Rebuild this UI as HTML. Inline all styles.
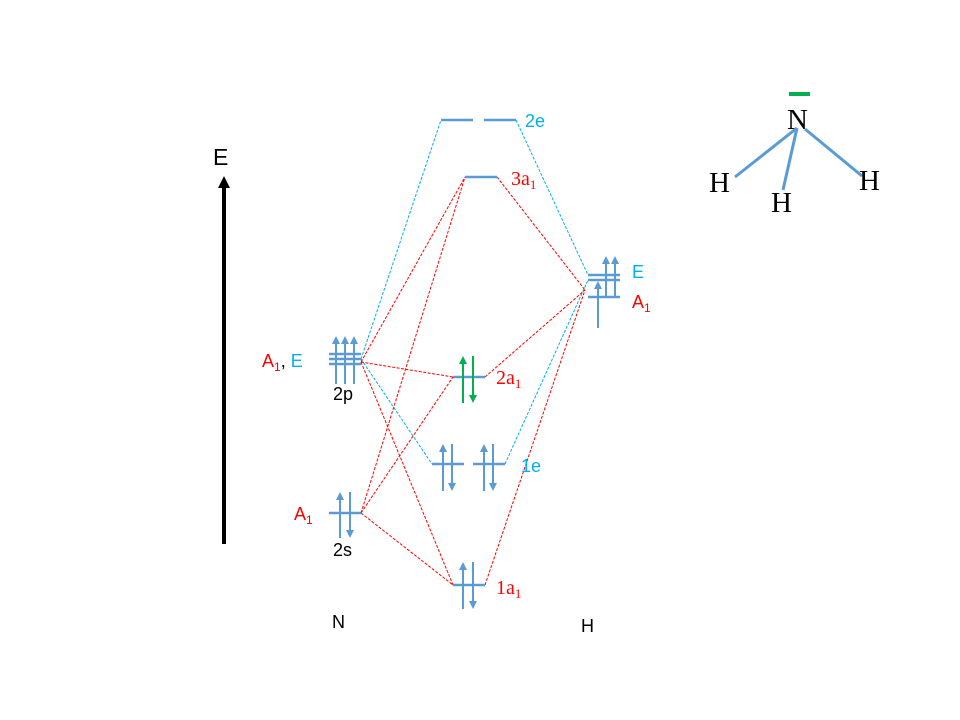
<!DOCTYPE html>
<html><head><style>body{margin:0;background:#fff}svg{display:block}</style></head><body>
<svg width="960" height="720" xmlns="http://www.w3.org/2000/svg" font-family="Liberation Sans, sans-serif">
<defs>
<marker id="ab" markerWidth="8" markerHeight="8" refX="4" refY="4" orient="auto" markerUnits="userSpaceOnUse"><path d="M0,0 L8,4 L0,8 z" fill="#5b9bd5"/></marker>
<marker id="ag" markerWidth="8" markerHeight="8" refX="4" refY="4" orient="auto" markerUnits="userSpaceOnUse"><path d="M0,0 L8,4 L0,8 z" fill="#00b050"/></marker>
<marker id="ak" markerWidth="12" markerHeight="12" refX="6" refY="6" orient="auto" markerUnits="userSpaceOnUse"><path d="M0,0 L12,6 L0,12 z" fill="#000"/></marker>
</defs>
<line x1="224" y1="544" x2="224" y2="182" stroke="#000" stroke-width="4" marker-end="url(#ak)"/>
<text x="213" y="165" font-size="23">E</text>
<g stroke="#00b0f0" stroke-width="1" stroke-dasharray="3,1.5" fill="none">
<path d="M361,359 L441,120"/><path d="M516,120 L588,275"/>
<path d="M361,359 L432,464"/><path d="M505,464 L588,280"/>
</g>
<g stroke="#ff0000" stroke-width="1" stroke-dasharray="3,1.5" fill="none">
<path d="M361,362 L465,177"/><path d="M361,362 L453,377"/><path d="M361,362 L453,585"/>
<path d="M361,513 L465,177"/><path d="M361,513 L453,377"/><path d="M361,513 L453,585"/>
<path d="M497,177 L585,290"/><path d="M485,377 L585,290"/><path d="M485,585 L585,290"/>
</g>
<g stroke="#5b9bd5" stroke-width="2.5">
<line x1="329" y1="354" x2="361" y2="354"/><line x1="329" y1="359" x2="361" y2="359"/><line x1="329" y1="364" x2="361" y2="364"/>
<line x1="329" y1="513" x2="361" y2="513"/>
<line x1="453" y1="377" x2="485" y2="377"/>
<line x1="432" y1="464" x2="464" y2="464"/><line x1="473" y1="464" x2="505" y2="464"/>
<line x1="453" y1="585" x2="485" y2="585"/>
<line x1="465" y1="177" x2="497" y2="177"/>
<line x1="441" y1="120" x2="473" y2="120"/><line x1="484" y1="120" x2="516" y2="120"/>
<line x1="588" y1="275" x2="620" y2="275"/><line x1="588" y1="280" x2="620" y2="280"/><line x1="588" y1="297" x2="620" y2="297"/>
</g>
<g stroke="#5b9bd5" stroke-width="2">
<line x1="336" y1="384" x2="336" y2="340" marker-end="url(#ab)"/>
<line x1="345" y1="384" x2="345" y2="340" marker-end="url(#ab)"/>
<line x1="354" y1="384" x2="354" y2="340" marker-end="url(#ab)"/>
<line x1="340" y1="538" x2="340" y2="496" marker-end="url(#ab)"/>
<line x1="350" y1="492" x2="350" y2="534" marker-end="url(#ab)"/>
<line x1="443" y1="491" x2="443" y2="448" marker-end="url(#ab)"/>
<line x1="452" y1="444" x2="452" y2="487" marker-end="url(#ab)"/>
<line x1="484" y1="491" x2="484" y2="448" marker-end="url(#ab)"/>
<line x1="493" y1="444" x2="493" y2="487" marker-end="url(#ab)"/>
<line x1="463" y1="609" x2="463" y2="566" marker-end="url(#ab)"/>
<line x1="473" y1="562" x2="473" y2="605" marker-end="url(#ab)"/>
<line x1="598" y1="328" x2="598" y2="285" marker-end="url(#ab)"/>
<line x1="606" y1="297" x2="606" y2="260" marker-end="url(#ab)"/>
<line x1="615" y1="297" x2="615" y2="260" marker-end="url(#ab)"/>
</g>
<g stroke="#00b050" stroke-width="2">
<line x1="463" y1="403" x2="463" y2="360" marker-end="url(#ag)"/>
<line x1="473" y1="356" x2="473" y2="399" marker-end="url(#ag)"/>
</g>
<g font-size="18">
<text x="262" y="367" fill="#ff0000">A<tspan font-size="12" dy="4">1</tspan><tspan dy="-4" fill="#000">,</tspan> <tspan fill="#00b0f0">E</tspan></text>
<text x="333" y="400" fill="#000">2p</text>
<text x="294" y="520" fill="#ff0000">A<tspan font-size="12" dy="4">1</tspan></text>
<text x="333" y="556" fill="#000">2s</text>
<text x="521" y="472" fill="#00b0f0">1e</text>
<text x="525" y="127" fill="#00b0f0">2e</text>
<text x="632" y="278" fill="#00b0f0">E</text>
<text x="632" y="308" fill="#ff0000">A<tspan font-size="12" dy="4">1</tspan></text>
<text x="332" y="628" fill="#000">N</text>
<text x="581" y="632" fill="#000">H</text>
</g>
<g font-family="Liberation Serif, serif" font-size="20" fill="#ff0000">
<text x="496" y="384">2a<tspan font-size="13" dy="4">1</tspan></text>
<text x="496" y="594">1a<tspan font-size="13" dy="4">1</tspan></text>
<text x="511" y="185">3a<tspan font-size="13" dy="4">1</tspan></text>
</g>
<rect x="789" y="92" width="21" height="4" fill="#00b050"/>
<g stroke="#5b9bd5" stroke-width="3">
<line x1="797" y1="128" x2="735" y2="177"/>
<line x1="797" y1="128" x2="783" y2="190"/>
<line x1="805" y1="129" x2="862" y2="176"/>
</g>
<g font-family="Liberation Serif, serif" font-size="29" fill="#000">
<text x="787" y="129">N</text>
<text x="709" y="192">H</text>
<text x="771" y="212">H</text>
<text x="859" y="190">H</text>
</g>
</svg>
</body></html>
